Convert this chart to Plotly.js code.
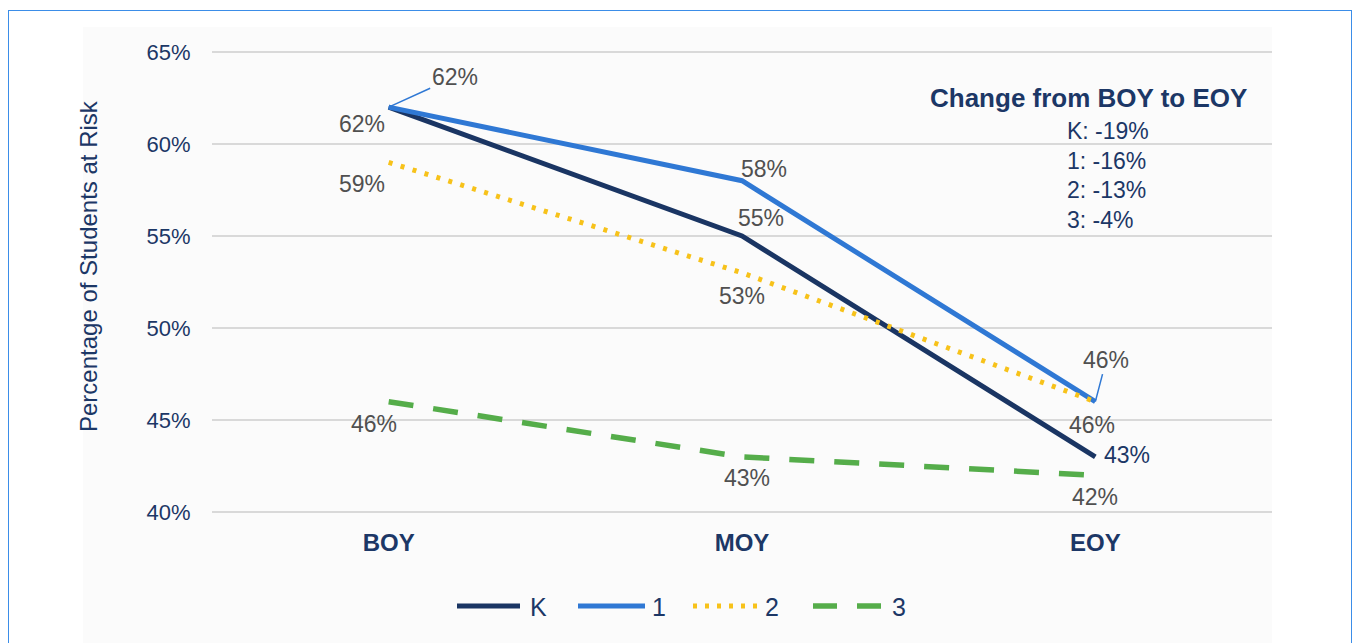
<!DOCTYPE html>
<html>
<head>
<meta charset="utf-8">
<script src="https://cdn.plot.ly/plotly-3.0.1.min.js"></script>
<style>
  html, body { margin: 0; padding: 0; background: #ffffff; overflow: hidden; }
  #frame { position: absolute; left: 8px; top: 10px; width: 1344px; height: 700px; border: 1.5px solid #3b8de8; box-sizing: border-box; }
  #panel { position: absolute; left: 83px; top: 27px; width: 1189px; height: 616px; background: #fbfbfb; }
  #chart { position: absolute; left: 0; top: 0; width: 1353px; height: 643px; }
</style>
</head>
<body>
<div id="frame"></div>
<div id="panel"></div>
<div id="chart"></div>
<script>
const categories = ["BOY", "MOY", "EOY"];
const seriesNames = ["K", "1", "2", "3"];
const valuesK = [62, 55, 43];
const values1 = [62, 58, 46];
const values2 = [59, 53, 46];
const values3 = [46, 43, 42];
const yTicks = [40, 45, 50, 55, 60, 65];
const yTickLabels = ["40%", "45%", "50%", "55%", "60%", "65%"];
const changeTitle = "Change from BOY to EOY";
const changeLines = ["K: -19%", "1: -16%", "2: -13%", "3: -4%"];

const navy = "#1c3766";
const labelGrey = "#505050";
const font = "Liberation Sans, Arial, sans-serif";

const styles = [
  {color: "#1a3563", width: 5, dash: "solid"},
  {color: "#2f78d4", width: 5, dash: "solid"},
  {color: "#f7c21a", width: 5, dash: "4px,8.5px"},
  {color: "#55ad4a", width: 5.5, dash: "25px,20px"}
];
const seriesValues = [valuesK, values1, values2, values3];

const traces = seriesValues.map((v, i) => ({
  name: seriesNames[i], x: categories, y: v, mode: "lines",
  line: styles[i], hoverinfo: "skip", showlegend: false
}));

// page-pixel -> paper helpers (plot area: x 212..1272, y 50..514)
const PL = 212, PW = 1060, PT = 50, PH = 464;
const px = p => (p - PL) / PW;
const py = p => (PT + PH - p) / PH;

function lab(ci, val, xs, ys, color) {
  return {x: categories[ci], y: val, xref: "x", yref: "y", text: val + "%",
    showarrow: false, xshift: xs, yshift: ys,
    font: {family: font, size: 23, color: color || labelGrey}};
}
function leader(ci, val, ax, ay) {
  return {x: categories[ci], y: val, xref: "x", yref: "y", text: val + "%",
    showarrow: true, arrowhead: 0, arrowwidth: 1.5, arrowcolor: "#2f78d4",
    ax: ax, ay: ay, standoff: 0,
    font: {family: font, size: 23, color: labelGrey}};
}

const annotations = [
  lab(0, valuesK[0], -27, -17),
  leader(0, values1[0], 66, -30),
  lab(0, values2[0], -27, -22),
  lab(0, values3[0], -15, -22),
  lab(1, values1[1], 22, 12),
  lab(1, valuesK[1], 19, 18),
  lab(1, values2[1], 0, -23),
  lab(1, values3[1], 5, -21),
  leader(2, values1[2], 11, -42),
  lab(2, values2[2], -3, -23),
  lab(2, valuesK[2], 32, 2, navy),
  lab(2, values3[2], 0, -22),
  {xref: "paper", yref: "paper", x: px(1088), y: py(98),
   text: "<b>" + changeTitle + "</b>", showarrow: false, xanchor: "center", yanchor: "middle",
   font: {family: font, size: 26, color: navy}},
  {xref: "paper", yref: "paper", x: px(88), y: py(266), textangle: -90,
   text: "Percentage of Students at Risk", showarrow: false, xanchor: "center", yanchor: "middle",
   font: {family: font, size: 24, color: navy}}
];
changeLines.forEach((t, i) => {
  annotations.push({xref: "paper", yref: "paper", x: px(1065),
    y: py(131 + i * 29.5), text: t, showarrow: false,
    xanchor: "left", yanchor: "middle",
    font: {family: font, size: 23, color: navy}});
});

// legend (drawn as key lines + labels)
const legendX = [[457, 520, 528], [578, 645, 650], [693, 760, 763], [813, 890, 890]];
const legendY = 606;
const shapes = [];
seriesNames.forEach((n, i) => {
  const st = styles[i];
  shapes.push({type: "line", xref: "paper", yref: "paper",
    x0: px(legendX[i][0]), x1: px(legendX[i][1]), y0: py(legendY), y1: py(legendY),
    line: {color: st.color, width: st.width, dash: i === 3 ? "24px,20px" : (i === 2 ? "4px,8px" : "solid")}});
  annotations.push({xref: "paper", yref: "paper", x: px(legendX[i][2]), y: py(legendY + 1),
    text: n, showarrow: false, xanchor: "left", yanchor: "middle",
    font: {family: font, size: 25, color: navy}});
});

const layout = {
  width: 1353, height: 643,
  margin: {l: PL, r: 1353 - PL - PW, t: PT, b: 643 - PT - PH},
  paper_bgcolor: "rgba(0,0,0,0)", plot_bgcolor: "rgba(0,0,0,0)",
  font: {family: font, color: navy},
  xaxis: {type: "category", range: [-0.5, 2.5], showgrid: false, zeroline: false,
    showline: false, ticks: "outside", ticklen: 7, tickcolor: "rgba(0,0,0,0)",
    tickfont: {family: font, size: 24, color: navy, weight: "bold"}, fixedrange: true},
  yaxis: {range: [39.9, 65.1], tickvals: yTicks, ticktext: yTickLabels,
    showgrid: true, gridcolor: "#d9d9d9", gridwidth: 1.5, zeroline: false, showline: false,
    ticks: "outside", ticklen: 16, tickcolor: "rgba(0,0,0,0)",
    tickfont: {family: font, size: 22, color: navy}, fixedrange: true},
  showlegend: false,
  shapes: shapes,
  annotations: annotations
};

Plotly.newPlot("chart", traces, layout, {displayModeBar: false, staticPlot: true});
</script>
</body>
</html>
